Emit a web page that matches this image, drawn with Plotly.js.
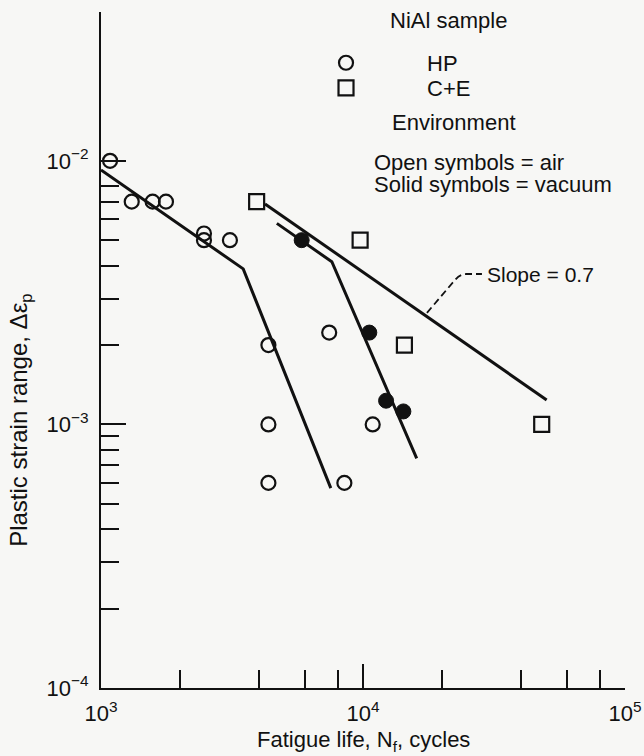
<!DOCTYPE html>
<html>
<head>
<meta charset="utf-8">
<script src="https://cdn.plot.ly/plotly-3.0.1.min.js"></script>
<style>
  html, body { margin: 0; padding: 0; background: #f7f7f5; }
  #chart { width: 644px; height: 756px; }
</style>
</head>
<body>
<div id="chart"></div>
<script>
// HP NiAl tested in air (open circles)
const hpAirCycles = [1083, 1310, 1574, 1770, 2472, 2472, 3105, 4355, 4355, 4355, 7430, 10890, 8490];
const hpAirStrain = [0.0100, 0.0070, 0.0070, 0.0070, 0.0053, 0.0050, 0.0050, 0.0020, 0.0010, 0.0006, 0.00223, 0.0010, 0.0006];

// HP NiAl tested in vacuum (solid circles)
const hpVacCycles = [5834, 10570, 12250, 14260];
const hpVacStrain = [0.0050, 0.00223, 0.00123, 0.00112];

// C+E NiAl tested in air (open squares)
const ceAirCycles = [3927, 9750, 14390, 48090];
const ceAirStrain = [0.0070, 0.0050, 0.0020, 0.0010];

// Fitted life lines
const hpAirFitCycles = [1000, 3490, 7535];
const hpAirFitStrain = [0.00923, 0.00389, 0.000573];
const hpVacFitCycles = [4690, 7604, 16030];
const hpVacFitStrain = [0.00579, 0.00414, 0.000743];
const ceFitCycles = [4227, 50230];
const ceFitStrain = [0.00686, 0.001238];

// Axis ticks
const xMajorTicks = [1e3, 1e4, 1e5];
const xMajorLabels = ['10<sup>3</sup>', '10<sup>4</sup>', '10<sup>5</sup>'];
const xEvenMinorTicks = [2e3, 4e3, 6e3, 8e3, 2e4, 4e4, 6e4, 8e4];
const xOddMinorTicks = [3e3, 5e3, 7e3, 9e3, 3e4, 5e4, 7e4, 9e4];
const yMajorTicks = [1e-4, 1e-3, 1e-2];
const yMajorLabels = ['10<sup>\u22124</sup>', '10<sup>\u22123</sup>', '10<sup>\u22122</sup>'];
const yMinorTicks = [2e-4, 3e-4, 4e-4, 5e-4, 6e-4, 7e-4, 8e-4, 9e-4,
                     2e-3, 3e-3, 4e-3, 5e-3, 6e-3, 7e-3, 8e-3];

const ink = '#111111';
const fontFamily = '"Liberation Sans", Arial, Helvetica, sans-serif';

const traces = [
  { x: hpAirFitCycles, y: hpAirFitStrain, mode: 'lines', line: { color: ink, width: 3 },
    showlegend: false, hoverinfo: 'skip' },
  { x: hpVacFitCycles, y: hpVacFitStrain, mode: 'lines', line: { color: ink, width: 3 },
    showlegend: false, hoverinfo: 'skip' },
  { x: ceFitCycles, y: ceFitStrain, mode: 'lines', line: { color: ink, width: 3 },
    showlegend: false, hoverinfo: 'skip' },
  { x: hpAirCycles, y: hpAirStrain, mode: 'markers', name: 'HP', legend: 'legend',
    marker: { symbol: 'circle-open', size: 14, color: ink, line: { width: 2.2, color: ink } } },
  { x: hpVacCycles, y: hpVacStrain, mode: 'markers', name: 'HP (vacuum)', showlegend: false,
    marker: { symbol: 'circle', size: 15, color: ink, line: { width: 1, color: ink } } },
  { x: ceAirCycles, y: ceAirStrain, mode: 'markers', name: 'C+E', legend: 'legend2',
    marker: { symbol: 'square-open', size: 15, color: ink, line: { width: 2.2, color: ink } } }
];

const legendBase = {
  xref: 'paper', yref: 'paper', xanchor: 'left', yanchor: 'middle',
  bgcolor: 'rgba(0,0,0,0)', borderwidth: 0, itemwidth: 152,
  font: { family: fontFamily, size: 22, color: ink }
};

const layout = {
  width: 644, height: 756,
  margin: { l: 101, r: 19, t: 12, b: 68, pad: 0 },
  paper_bgcolor: '#f7f7f5', plot_bgcolor: '#f7f7f5',
  font: { family: fontFamily, color: ink, size: 22 },
  showlegend: true,
  legend: Object.assign({}, legendBase, { x: 0.313, y: 0.9246 }),
  legend2: Object.assign({}, legendBase, { x: 0.313, y: 0.8876 }),
  xaxis: {
    type: 'log', range: [3, 5],
    showline: true, linecolor: ink, linewidth: 2,
    showgrid: false, zeroline: false,
    tickmode: 'array', tickvals: xMajorTicks, ticktext: xMajorLabels,
    ticks: 'inside', ticklen: 24, tickwidth: 2, tickcolor: ink,
    ticklabelstandoff: 5,
    tickfont: { family: fontFamily, size: 22, color: ink },
    minor: { tickmode: 'array', tickvals: xEvenMinorTicks, ticks: 'inside',
             ticklen: 18, tickwidth: 2, tickcolor: ink, showgrid: false }
  },
  xaxis2: {
    type: 'log', range: [3, 5], overlaying: 'x', anchor: 'y', side: 'bottom',
    showline: false, showgrid: false, zeroline: false, showticklabels: false,
    tickmode: 'array', tickvals: xOddMinorTicks,
    ticks: 'inside', ticklen: 12, tickwidth: 2, tickcolor: ink
  },
  yaxis: {
    type: 'log', range: [-4, -1.4355],
    showline: true, linecolor: ink, linewidth: 2,
    showgrid: false, zeroline: false,
    tickmode: 'array', tickvals: yMajorTicks, ticktext: yMajorLabels,
    ticks: 'inside', ticklen: 25, tickwidth: 2, tickcolor: ink,
    ticklabelstandoff: 6,
    tickfont: { family: fontFamily, size: 22, color: ink },
    minor: { tickmode: 'array', tickvals: yMinorTicks, ticks: 'inside',
             ticklen: 18, tickwidth: 2, tickcolor: ink, showgrid: false }
  },
  shapes: [
    // dashed leader from the C+E line to its slope label
    { type: 'path', xref: 'x', yref: 'y',
      path: 'M 17540,0.00265 L 22440,0.00353 Q 23500,0.00372 24800,0.00372 L 28440,0.00372',
      line: { color: ink, width: 1.8, dash: '7px,4px' } }
  ],
  annotations: [
    { xref: 'x', yref: 'y', x: 4.466, y: -2.433, xanchor: 'left', yanchor: 'middle',
      text: 'Slope = 0.7', showarrow: false, font: { size: 21 } },
    { xref: 'paper', yref: 'paper', x: 0.5477, y: 0.9867, xanchor: 'left', yanchor: 'middle',
      text: 'NiAl sample', showarrow: false, font: { size: 22 } },
    { xref: 'paper', yref: 'paper', x: 0.5515, y: 0.8358, xanchor: 'left', yanchor: 'middle',
      text: 'Environment', showarrow: false, font: { size: 22 } },
    { xref: 'paper', yref: 'paper', x: 0.5172, y: 0.7781, xanchor: 'left', yanchor: 'middle',
      text: 'Open symbols = air', showarrow: false, font: { size: 22 } },
    { xref: 'paper', yref: 'paper', x: 0.5172, y: 0.7441, xanchor: 'left', yanchor: 'middle',
      text: 'Solid symbols = vacuum', showarrow: false, font: { size: 22 } },
    { xref: 'paper', yref: 'paper', x: 0.5, y: -0.0785, xanchor: 'center', yanchor: 'middle',
      text: 'Fatigue life, N<sub>f</sub>, cycles', showarrow: false, font: { size: 22 } },
    { xref: 'paper', yref: 'paper', x: -0.155, y: 0.3964, xanchor: 'center', yanchor: 'middle',
      textangle: -90, text: 'Plastic strain range, \u0394\u03b5<sub>p</sub>', showarrow: false,
      font: { size: 24 } }
  ]
};

Plotly.newPlot('chart', traces, layout, { displayModeBar: false, staticPlot: true });
</script>
</body>
</html>
